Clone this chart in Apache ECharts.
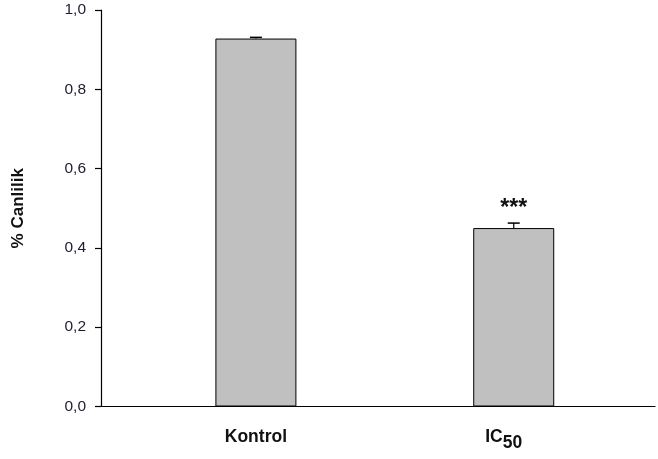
<!DOCTYPE html>
<html>
<head>
<meta charset="utf-8">
<style>
  html, body { margin: 0; padding: 0; background: #ffffff; }
  #chart { width: 658px; height: 459px; }
</style>
<script src="https://cdn.jsdelivr.net/npm/echarts@6/dist/echarts.min.js"></script>
</head>
<body>
<div id="chart"></div>
<script>
// Groups, their horizontal positions on the x scale, and measured viability
const groups = ['Kontrol', 'IC50'];
const groupPositions = [0.2796, 0.745];
const viability = [0.928, 0.450];
const viabilityError = [0.003, 0.0126];
const significance = ['', '***'];
const yTicks = [0, 0.2, 0.4, 0.6, 0.8, 1.0];

const chart = echarts.init(document.getElementById('chart'));

const barData = groups.map((g, i) => ({
  value: [groupPositions[i], viability[i]],
  label: { show: significance[i] !== '', formatter: significance[i] }
}));
const errData = groups.map((g, i) => [groupPositions[i], viability[i], viabilityError[i]]);

const option = {
  animation: false,
  grid: { left: 101, right: 3, top: 10, bottom: 52.5, containLabel: false },
  xAxis: {
    type: 'value',
    min: 0,
    max: 1,
    splitLine: { show: false },
    axisLine: { show: true, lineStyle: { color: '#000', width: 1.2 } },
    axisTick: { show: false },
    axisLabel: {
      customValues: groupPositions,
      margin: 22,
      formatter: function (v) {
        const i = groupPositions.indexOf(v);
        if (groups[i] === 'IC50') return '{main|IC}{sub|50}';
        return '{main|' + groups[i] + '}';
      },
      rich: {
        main: { fontFamily: 'Liberation Sans, Arial, sans-serif', fontWeight: 'bold', fontSize: 17.5, color: '#111', verticalAlign: 'bottom', padding: [0, 0, 6, 0] },
        sub: { fontFamily: 'Liberation Sans, Arial, sans-serif', fontWeight: 'bold', fontSize: 17.5, color: '#111', verticalAlign: 'bottom', padding: [0, 20, 0, 0] }
      }
    }
  },
  yAxis: {
    type: 'value',
    min: 0,
    max: 1,
    interval: 0.2,
    splitLine: { show: false },
    axisLine: { show: true, lineStyle: { color: '#000', width: 1.2 } },
    axisTick: { show: true, length: 6, lineStyle: { color: '#000', width: 1.2 } },
    axisLabel: {
      margin: 15,
      fontFamily: 'Liberation Sans, Arial, sans-serif',
      fontSize: 15.5,
      color: '#1c1c2e',
      formatter: v => v.toFixed(1).replace('.', ',')
    },
    name: '% Canlilik',
    nameLocation: 'middle',
    nameGap: 74,
    nameTextStyle: { fontFamily: 'Liberation Sans, Arial, sans-serif', fontWeight: 'bold', fontSize: 17, color: '#111' }
  },
  series: [
    {
      type: 'bar',
      data: barData,
      barWidth: 81,
      itemStyle: { color: '#c0c0c0', borderColor: '#000', borderWidth: 1 },
      label: {
        position: 'top',
        distance: 8,
        fontFamily: 'Liberation Sans, Arial, sans-serif',
        fontWeight: 'bold',
        fontSize: 23,
        color: '#111'
      }
    },
    {
      type: 'custom',
      data: errData,
      z: 5,
      renderItem: function (params, api) {
        const x = api.value(0), y = api.value(1), e = api.value(2);
        const base = api.coord([x, y]);
        const top = api.coord([x, y + e]);
        const half = 6;
        return {
          type: 'group',
          children: [
            { type: 'line', shape: { x1: base[0], y1: base[1], x2: top[0], y2: top[1] }, style: { stroke: '#000', lineWidth: 1.2 } },
            { type: 'line', shape: { x1: top[0] - half, y1: top[1], x2: top[0] + half, y2: top[1] }, style: { stroke: '#000', lineWidth: 1.5 } }
          ]
        };
      }
    }
  ]
};

chart.setOption(option);
</script>
</body>
</html>
